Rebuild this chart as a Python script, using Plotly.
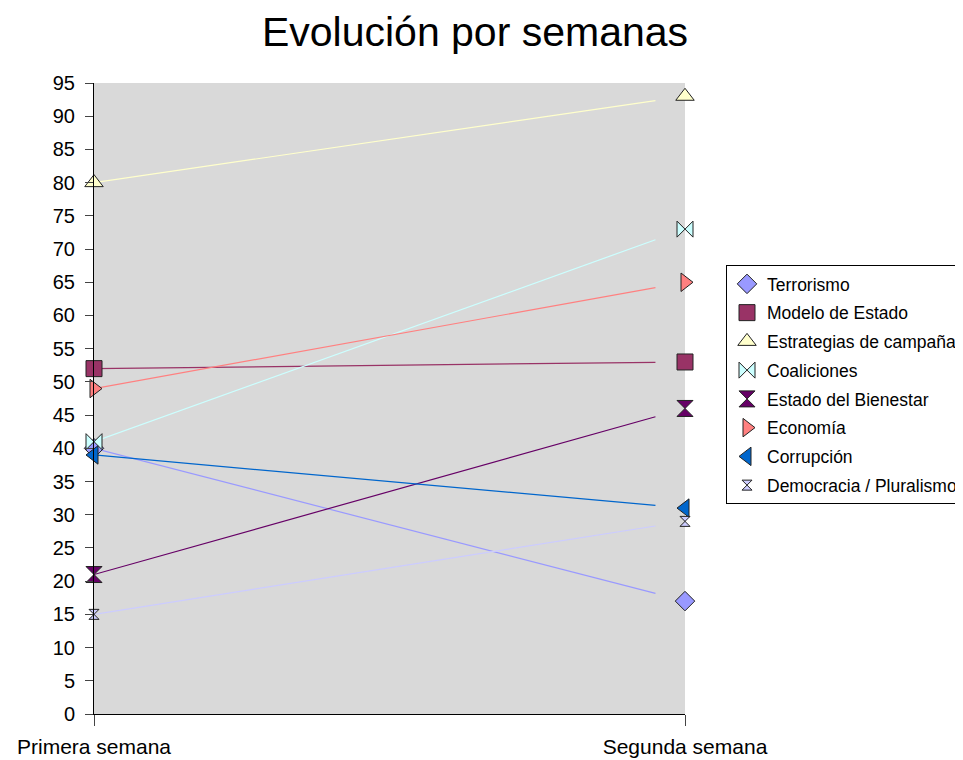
import plotly.graph_objects as go

weeks = ["Primera semana", "Segunda semana"]
series = ["Terrorismo", "Modelo de Estado", "Estrategias de campaña", "Coaliciones",
          "Estado del Bienestar", "Economía", "Corrupción", "Democracia / Pluralismo"]
week1 = [40, 52, 80, 41, 21, 49, 39, 15]
week2 = [17, 53, 93, 73, 46, 65, 31, 29]

colors = ["#9999ff", "#993366", "#ffffcc", "#ccffff", "#660066", "#ff8080", "#0066cc", "#ccccff"]
symbols = ["diamond", "square", "triangle-up", "bowtie", "hourglass", "triangle-right",
           "triangle-left", "hourglass"]
sizes = [15, 16, 16, 16, 16, 16, 16, 10]

xpos = [0, 1]
line_end = 0.95  # Excel draws the connecting line stopping short of the second category

W, H = 955, 752  # page has an 8px body margin
L, R, T, B = 86, 278, 75, 46
pw, ph = W - L - R, H - T - B

fig = go.Figure()
for name, a, b, c in zip(series, week1, week2, colors):
    fig.add_trace(go.Scatter(
        x=[0, line_end], y=[a, a + line_end * (b - a)], mode="lines",
        line=dict(color=c, width=1.2), showlegend=False, hoverinfo="skip"))
for i, (name, a, b, c, s, sz) in enumerate(zip(series, week1, week2, colors, symbols, sizes)):
    fig.add_trace(go.Scatter(
        x=xpos, y=[a, b], mode="markers", name=name, cliponaxis=False,
        legendgroup=f"g{i}",
        marker=dict(symbol=s, size=sz, color=c, line=dict(color="#222222", width=1))))

fig.update_layout(
    width=W, height=H,
    margin=dict(l=L, r=R, t=T, b=B, autoexpand=False),
    paper_bgcolor="white", plot_bgcolor="#d9d9d9",
    font=dict(family="Liberation Sans, Arial, sans-serif", color="black", size=18),
    title=dict(text="Evolución por semanas", x=467 / W, xanchor="center",
               xref="container", yref="container", y=1 - 24 / H, yanchor="middle",
               font=dict(size=41)),
    legend=dict(x=(718 - L) / pw, y=(706 - 257) / ph, xanchor="left", yanchor="top",
                bgcolor="white", bordercolor="black", borderwidth=1,
                font=dict(size=17.5), traceorder="grouped", tracegroupgap=3, itemwidth=30),
    showlegend=True,
)
fig.update_xaxes(range=[0, 1], tickvals=xpos, ticktext=weeks, ticks="outside", ticklen=11,
                 ticklabelstandoff=3,
                 showline=True, linecolor="black", linewidth=1, showgrid=False,
                 zeroline=False, tickfont=dict(size=21), automargin=False)
fig.update_yaxes(range=[0, 95], dtick=5, ticks="outside", ticklen=8, showline=True,
                 ticklabelstandoff=6,
                 linecolor="black", linewidth=1, showgrid=False, zeroline=False,
                 tickfont=dict(size=20), automargin=False)

fig.write_html("out.html")
